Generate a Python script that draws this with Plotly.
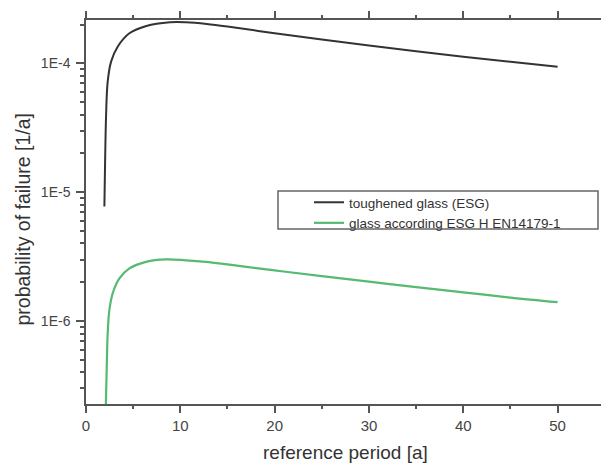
import plotly.graph_objects as go

# reference period [a] / probability of failure [1/a]
t_esg = [1.95, 2.02, 2.13, 2.3, 2.66, 3.37, 4.6, 6.4, 8.9, 10.6, 12.8, 15.0, 20.0, 25.0, 30.0, 35.0, 40.0, 45.0, 50.0]
p_esg = [7.73e-6, 1.63e-5, 3.97e-5, 7.2e-5, 1.03e-4, 1.35e-4, 1.71e-4, 1.95e-4, 2.08e-4, 2.08e-4, 2.02e-4,
         1.93e-4, 1.71e-4, 1.53e-4, 1.374e-4, 1.239e-4, 1.125e-4, 1.026e-4, 9.4e-5]

t_hst = [2.05, 2.2, 2.3, 2.48, 2.83, 3.54, 4.6, 6.36, 8.5, 10.6, 12.7, 15.0, 20.0, 25.0, 30.0, 35.0, 40.0, 45.0, 50.0]
p_hst = [1.5e-7, 4.43e-7, 8.0e-7, 1.22e-6, 1.64e-6, 2.14e-6, 2.56e-6, 2.88e-6, 3.01e-6, 2.96e-6, 2.88e-6,
         2.75e-6, 2.47e-6, 2.23e-6, 2.02e-6, 1.83e-6, 1.67e-6, 1.52e-6, 1.40e-6]

names = ["toughened glass (ESG)", "glass according ESG H EN14179-1"]
x_title = "reference period [a]"
y_title = "probability of failure [1/a]"
x_ticks = [0, 10, 20, 30, 40, 50]
y_ticks = [1e-6, 1e-5, 1e-4]
y_ticktext = ["1E-6", "1E-5", "1E-4"]
y_minor = [k * 10.0 ** e for e in (-7, -6, -5, -4) for k in range(2, 10)]

axcol = "#555555"
fig = go.Figure()
fig.add_trace(go.Scatter(x=t_esg, y=p_esg, mode="lines", name=names[0],
                         line=dict(color="#333333", width=2, shape="spline", smoothing=1.0)))
fig.add_trace(go.Scatter(x=t_hst, y=p_hst, mode="lines", name=names[1],
                         line=dict(color="#55bb70", width=2.2, shape="spline", smoothing=1.0)))

L, R, T, B = 86, 0, 20, 59
PW, PH = 601 - L - R, 463 - T - B

fig.update_layout(
    width=601, height=463,
    margin=dict(l=L, r=R, t=T, b=B, autoexpand=False),
    paper_bgcolor="white", plot_bgcolor="white",
    font=dict(family="Liberation Sans, Arial, sans-serif", color="#444444"),
    showlegend=True,
    legend=dict(x=(309 - L) / PW, y=(404 - 187) / PH, xanchor="left", yanchor="top",
                bgcolor="rgba(0,0,0,0)", borderwidth=0,
                font=dict(size=13.5, color="#333333"), tracegroupgap=0,
                itemwidth=30),
)
fig.add_shape(type="rect", xref="paper", yref="paper",
              x0=(278 - L) / PW, x1=(598 - L) / PW,
              y0=(404 - 229) / PH, y1=(404 - 191) / PH,
              line=dict(color="#666666", width=1.5))

fig.add_annotation(text=y_title, xref="paper", yref="paper", x=(22.5 - L) / PW, y=(404 - 220) / PH,
                   xanchor="center", yanchor="middle", textangle=-90, showarrow=False,
                   font=dict(size=19.5, color="#333333"))
fig.add_annotation(text=x_title, xref="paper", yref="paper", x=(345 - L) / PW, y=(404 - 452) / PH,
                   xanchor="center", yanchor="middle", showarrow=False,
                   font=dict(size=19, color="#333333"))

fig.update_xaxes(range=[0, 54.6], tickvals=x_ticks, ticks="outside", ticklen=7, tickwidth=1.5,
                 tickcolor=axcol, showline=True, linecolor=axcol, linewidth=1.5, mirror="ticks",
                 showgrid=False, zeroline=False, tickfont=dict(size=15, color="#444444"),
                 minor=dict(dtick=5, tick0=0, ticks="outside", ticklen=3.5, tickwidth=1.5, tickcolor=axcol))
fig.update_yaxes(type="log", range=[-6.644, -3.664], tickvals=y_ticks, ticktext=y_ticktext,
                 ticks="outside", ticklen=8, tickwidth=1.5, tickcolor=axcol, ticklabelstandoff=3,
                 showline=True, linecolor=axcol, linewidth=1.5, mirror=False,
                 showgrid=False, zeroline=False, tickfont=dict(size=14, color="#444444"),
                 minor=dict(tickvals=y_minor, ticks="outside", ticklen=4, tickwidth=1.5, tickcolor=axcol))

fig.write_html("out.html", config={"displayModeBar": False},
               post_script="document.body.style.margin='0';document.body.style.overflow='hidden';")
